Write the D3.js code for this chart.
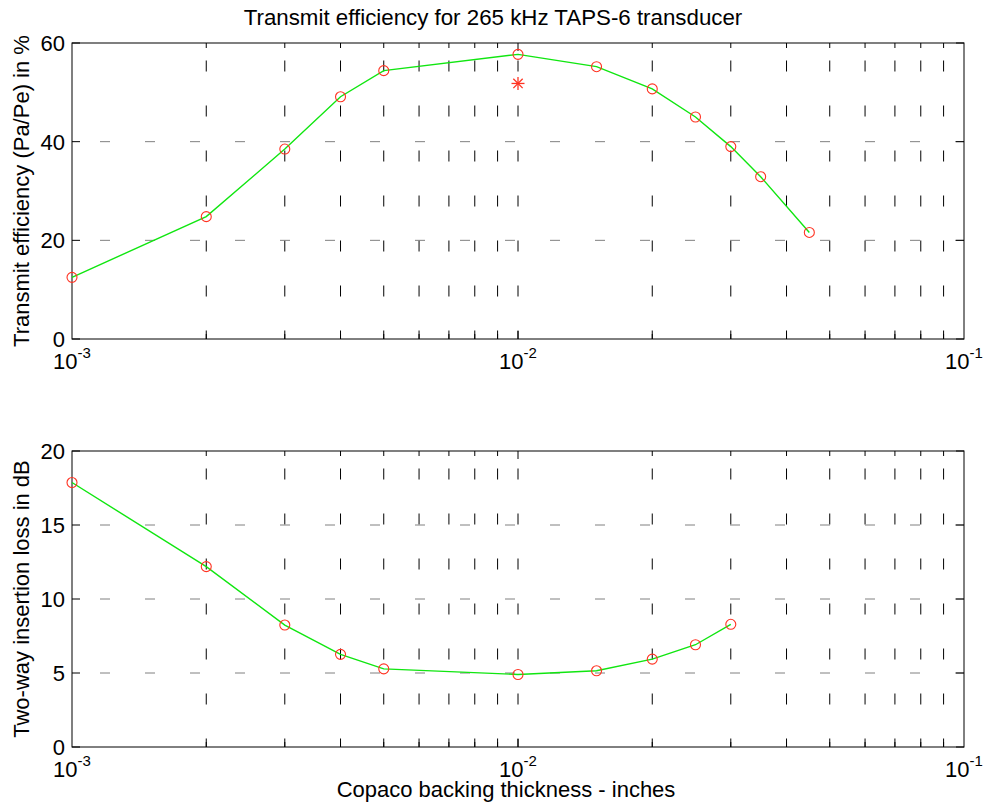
<!DOCTYPE html>
<html>
<head>
<meta charset="utf-8">
<script src="https://cdn.jsdelivr.net/npm/d3@7"></script>
<style>
    body { margin: 0; background: #fff; }
    text { font-family: "Liberation Sans", Arial, sans-serif; fill: #000; }
</style>
</head>
<body>
<div id="chart"></div>
<script>
// backing thickness in inches
const thicknessTop = [0.001, 0.002, 0.003, 0.004, 0.005, 0.01, 0.015, 0.02, 0.025, 0.03, 0.035, 0.045]
const efficiency = [12.5, 24.8, 38.5, 49.1, 54.4, 57.7, 55.2, 50.7, 45.0, 39.0, 32.9, 21.6]
const measured = [[0.01, 51.8]]

const thicknessBottom = [0.001, 0.002, 0.003, 0.004, 0.005, 0.01, 0.015, 0.02, 0.025, 0.03]
const insertionLoss = [17.87, 12.19, 8.24, 6.26, 5.28, 4.90, 5.15, 5.94, 6.91, 8.29]

const xDomain = [0.001, 0.1]
const xMajor = [0.001, 0.01, 0.1]
const xMajorLabels = ["-3", "-2", "-1"]
const yTicksTop = [0, 20, 40, 60]
const yTicksBottom = [0, 5, 10, 15, 20]

const titleText = "Transmit efficiency for 265 kHz TAPS-6 transducer"
const xLabelText = "Copaco backing thickness - inches"
const yLabelTop = "Transmit efficiency (Pa/Pe) in %"
const yLabelBottom = "Two-way insertion loss in dB"

buildChart()

function buildChart() {
    let svg = d3.select("#chart")
                .append("svg")
                    .attr("width", 985)
                    .attr("height", 805)

    let left = 72, right = 964

    drawPanel(svg, {top: 43, bottom: 339, left: left, right: right,
                    yDomain: [0, 60], yTicks: yTicksTop, yLabel: yLabelTop,
                    xs: thicknessTop, ys: efficiency, stars: measured})

    drawPanel(svg, {top: 451, bottom: 747, left: left, right: right,
                    yDomain: [0, 20], yTicks: yTicksBottom, yLabel: yLabelBottom,
                    xs: thicknessBottom, ys: insertionLoss, stars: []})

    svg.append("text")
        .attr("x", 493)
        .attr("y", 25)
        .attr("text-anchor", "middle")
        .style("font-size", "22.3px")
        .text(titleText)

    svg.append("text")
        .attr("x", 506)
        .attr("y", 797)
        .attr("text-anchor", "middle")
        .style("font-size", "22px")
        .text(xLabelText)
}

function drawPanel(svg, p) {
    let x = d3.scaleLog().domain(xDomain).range([p.left, p.right])
    let y = d3.scaleLinear().domain(p.yDomain).range([p.bottom, p.top])
    let g = svg.append("g")

    // all decade ticks (minor + major) inside the box
    let allTicks = x.ticks().filter(d => d > xDomain[0] * 1.0001 && d < xDomain[1] * 0.9999)
    let isMajor = d => xMajor.some(m => Math.abs(m - d) / m < 1e-6)

    // vertical grid, black dashes, drawn top to bottom
    g.selectAll(".xgrid")
        .data(allTicks)
        .enter().append("line")
            .attr("x1", d => x(d)).attr("x2", d => x(d))
            .attr("y1", p.top).attr("y2", p.bottom)
            .attr("stroke", "#000")
            .attr("stroke-width", 1)
            .attr("stroke-dasharray", "11 34")
            .attr("stroke-dashoffset", 27.5)

    // horizontal grid, grey dashes
    g.selectAll(".ygrid")
        .data(p.yTicks.filter(d => d > p.yDomain[0] && d < p.yDomain[1]))
        .enter().append("line")
            .attr("x1", p.left).attr("x2", p.right)
            .attr("y1", d => y(d)).attr("y2", d => y(d))
            .attr("stroke", "#808080")
            .attr("stroke-width", 1)
            .attr("stroke-dasharray", "10 35")
            .attr("stroke-dashoffset", 17)

    // box
    g.append("rect")
        .attr("x", p.left).attr("y", p.top)
        .attr("width", p.right - p.left).attr("height", p.bottom - p.top)
        .attr("fill", "none")
        .attr("stroke", "#000")
        .attr("stroke-width", 1)

    // x ticks, bottom and top
    let tl = d => isMajor(d) ? 8 : 5
    g.selectAll(".xtb")
        .data(allTicks)
        .enter().append("line")
            .attr("x1", d => x(d)).attr("x2", d => x(d))
            .attr("y1", p.bottom).attr("y2", d => p.bottom - tl(d))
            .attr("stroke", "#000")
    g.selectAll(".xtt")
        .data(allTicks)
        .enter().append("line")
            .attr("x1", d => x(d)).attr("x2", d => x(d))
            .attr("y1", p.top).attr("y2", d => p.top + tl(d))
            .attr("stroke", "#000")

    // y ticks, left and right
    g.selectAll(".ytl")
        .data(p.yTicks)
        .enter().append("line")
            .attr("x1", p.left).attr("x2", p.left + 8)
            .attr("y1", d => y(d)).attr("y2", d => y(d))
            .attr("stroke", "#000")
    g.selectAll(".ytr")
        .data(p.yTicks)
        .enter().append("line")
            .attr("x1", p.right).attr("x2", p.right - 8)
            .attr("y1", d => y(d)).attr("y2", d => y(d))
            .attr("stroke", "#000")

    // y tick labels
    g.selectAll(".ylab")
        .data(p.yTicks)
        .enter().append("text")
            .attr("x", p.left - 7)
            .attr("y", d => y(d))
            .attr("dy", "0.36em")
            .attr("text-anchor", "end")
            .style("font-size", "22px")
            .text(d => d)

    // x tick labels 10^n
    let xl = g.selectAll(".xlab")
        .data(xMajor)
        .enter().append("text")
            .attr("x", d => x(d))
            .attr("y", p.bottom + 30)
            .attr("text-anchor", "middle")
            .style("font-size", "22px")
    xl.append("tspan").text("10")
    xl.append("tspan")
        .attr("dy", -11)
        .style("font-size", "15px")
        .text((d, i) => xMajorLabels[i])

    // y label
    g.append("text")
        .attr("transform", `translate(29,${(p.top + p.bottom) / 2}) rotate(-90)`)
        .attr("text-anchor", "middle")
        .style("font-size", "22px")
        .text(p.yLabel)

    // data
    let pts = p.xs.map((d, i) => [d, p.ys[i]])
    let line = d3.line()
                .x(d => x(d[0]))
                .y(d => y(d[1]))

    g.append("path")
        .attr("d", line(pts))
        .attr("fill", "none")
        .attr("stroke", "#10e610")
        .attr("stroke-width", 1.4)

    g.selectAll(".pt")
        .data(pts)
        .enter().append("circle")
            .attr("cx", d => x(d[0]))
            .attr("cy", d => y(d[1]))
            .attr("r", 5)
            .attr("fill", "none")
            .attr("stroke", "#ff3322")
            .attr("stroke-width", 1.1)

    // asterisk markers
    let s = 6.5
    let star = g.selectAll(".star")
        .data(p.stars)
        .enter().append("g")
            .attr("transform", d => `translate(${x(d[0])},${y(d[1])})`)
            .attr("stroke", "#ff3322")
            .attr("stroke-width", 1.3)
    star.append("line").attr("x1", -s).attr("x2", s)
    star.append("line").attr("y1", -s).attr("y2", s)
    star.append("line").attr("x1", -s * 0.72).attr("y1", -s * 0.72).attr("x2", s * 0.72).attr("y2", s * 0.72)
    star.append("line").attr("x1", -s * 0.72).attr("y1", s * 0.72).attr("x2", s * 0.72).attr("y2", -s * 0.72)
}
</script>
</body>
</html>
